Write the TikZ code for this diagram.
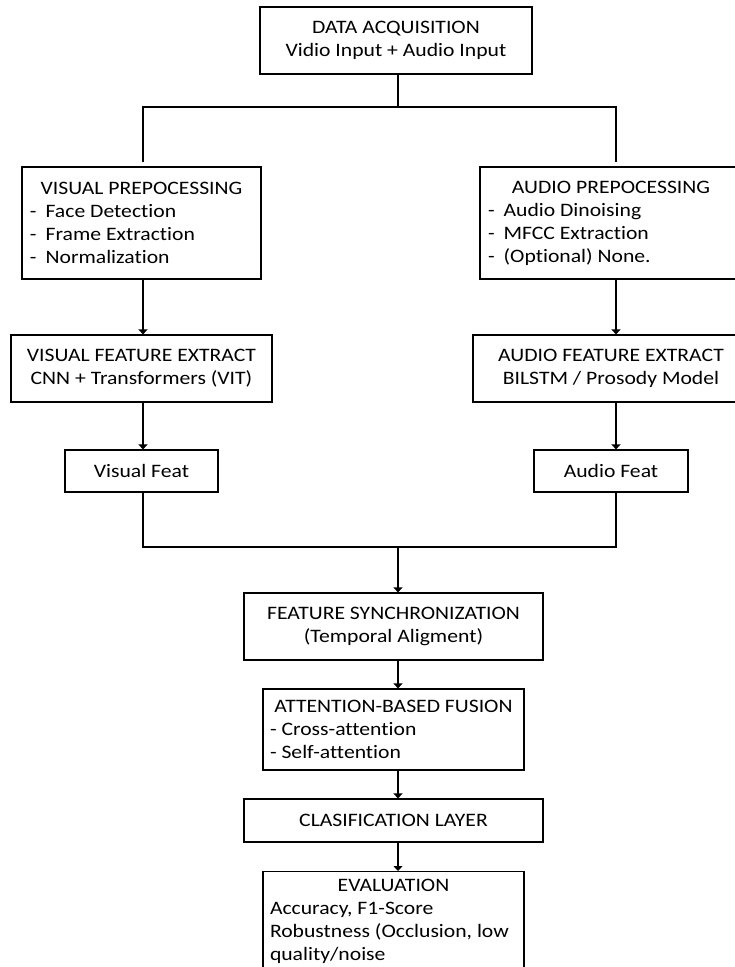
\documentclass[tikz,border=0pt]{standalone}
\usepackage{fontspec}
\setmainfont{Carlito}[FakeStretch=1.14, Ligatures=NoCommon]
\usetikzlibrary{arrows.meta}

\newcommand{\boxtitle}[1]{\hfill #1\hfill\null}
\newcommand{\dashitem}{-\hspace{9pt}}

\begin{document}
\begin{tikzpicture}[x=1pt,y=-1pt,
  box/.style={draw, line width=1.2pt, inner xsep=8pt, inner ysep=0pt, font=\fontsize{19}{23}\selectfont},
  listbox/.style={box, align=flush left},
  textbox/.style={box, align=center},
  link/.style={line width=1.2pt},
  flow/.style={line width=1.2pt, -{Triangle[length=5pt,width=9pt]}}]
\useasboundingbox (0,0) rectangle (735,967);

% top
\node[textbox, minimum width=272pt, minimum height=67pt] (acq) at (396,40.5) {DATA ACQUISITION\\Vidio Input + Audio Input};

% left branch
\node[listbox, text width=223pt, minimum height=112pt] (vprep) at (141.5,223)
  {\boxtitle{VISUAL PREPOCESSING}\\ \dashitem Face Detection\\ \dashitem Frame Extraction\\ \dashitem Normalization};
\node[textbox, minimum width=261pt, minimum height=67pt] (vext) at (141.5,368.5) {VISUAL FEATURE EXTRACT\\CNN + Transformers (VIT)};
\node[textbox, minimum width=153pt, minimum height=42pt] (vfeat) at (141.5,471) {Visual Feat};

% right branch
\node[listbox, text width=246pt, minimum height=112pt] (aprep) at (611,223)
  {\boxtitle{AUDIO PREPOCESSING}\\ \dashitem Audio Dinoising\\ \dashitem MFCC Extraction\\ \dashitem (Optional) None.};
\node[textbox, minimum width=276pt, minimum height=67pt] (aext) at (611,368.5) {AUDIO FEATURE EXTRACT\\BILSTM / Prosody Model};
\node[textbox, minimum width=154pt, minimum height=42pt] (afeat) at (611,471) {Audio Feat};

% fused part
\node[textbox, minimum width=299pt, minimum height=67pt] (sync) at (393.5,626.5) {FEATURE SYNCHRONIZATION\\(Temporal Aligment)};
\node[listbox, text width=247pt, inner xsep=7pt, minimum height=81pt] (att) at (393.5,729.5)
  {\boxtitle{ATTENTION-BASED FUSION}\\- Cross-attention\\- Self-attention};
\node[textbox, minimum width=299pt, minimum height=43pt] (clas) at (393.5,820.5) {CLASIFICATION LAYER};
\node[listbox, text width=247pt, inner xsep=7pt, inner ysep=8pt, anchor=north] (eval) at (393.5,871)
  {\boxtitle{EVALUATION}\\Accuracy, F1-Score\\Robustness (Occlusion, low\\quality/noise};

\coordinate (lcol) at (143,0);
\coordinate (rcol) at (616,0);
\coordinate (mcol) at (398,0);
\coordinate (split) at (398,107);
\coordinate (join) at (398,547);

\draw[link] (acq.south -| mcol) -- (split);
\draw[link, shorten <=4pt] (vprep.north -| lcol) |- (split);
\draw[link, shorten >=4pt] (split) -| (aprep.north -| rcol);
\draw[flow] (vprep.south -| lcol) -- (vext.north -| lcol);
\draw[flow] (vext.south -| lcol) -- (vfeat.north -| lcol);
\draw[flow] (aprep.south -| rcol) -- (aext.north -| rcol);
\draw[flow] (aext.south -| rcol) -- (afeat.north -| rcol);
\draw[link] (vfeat.south -| lcol) |- (join) -| (afeat.south -| rcol);
\draw[flow] (join) -- (sync.north -| mcol);
\draw[flow] (sync.south -| mcol) -- (att.north -| mcol);
\draw[flow] (att.south -| mcol) -- (clas.north -| mcol);
\draw[flow] (clas.south -| mcol) -- (eval.north -| mcol);
\end{tikzpicture}
\end{document}
